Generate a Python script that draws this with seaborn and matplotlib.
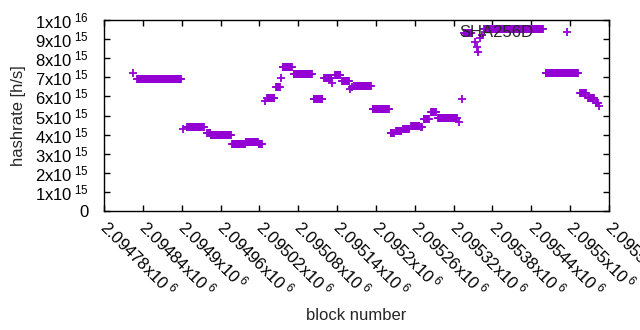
import numpy as np
import pandas as pd
import seaborn as sns
import matplotlib
matplotlib.use("Agg")
import matplotlib.pyplot as plt
from matplotlib.ticker import FuncFormatter

# piecewise constant hashrate (first block, last block, value in 1e15 h/s)
seg_start = [2094825, 2094831, 2094902, 2094908, 2094939, 2094945, 2094978, 2094999,
             2095019, 2095029, 2095032, 2095046, 2095053, 2095056, 2095073, 2095104,
             2095120, 2095132, 2095137, 2095148, 2095160, 2095163, 2095166, 2095195,
             2095223, 2095231, 2095242, 2095254, 2095270, 2095274, 2095285, 2095296,
             2095328, 2095333, 2095336, 2095353, 2095356, 2095358, 2095361, 2095364,
             2095367, 2095462, 2095515, 2095528, 2095540, 2095545]
seg_end = [2094825, 2094899, 2094902, 2094934, 2094944, 2094976, 2094998, 2095018,
           2095024, 2095029, 2095043, 2095052, 2095053, 2095070, 2095101, 2095117,
           2095131, 2095132, 2095145, 2095158, 2095160, 2095163, 2095192, 2095220,
           2095228, 2095239, 2095251, 2095267, 2095271, 2095282, 2095293, 2095325,
           2095328, 2095333, 2095347, 2095353, 2095356, 2095358, 2095361, 2095364,
           2095458, 2095512, 2095524, 2095537, 2095543, 2095545]
seg_rate = [7.21, 6.90, 4.29, 4.38, 4.10, 3.96, 3.50, 3.60,
            3.52, 5.75, 5.92, 6.47, 6.98, 7.52, 7.16, 5.85,
            6.95, 6.69, 7.12, 6.82, 6.37, 6.50, 6.54, 5.32,
            4.10, 4.20, 4.30, 4.45, 4.38, 4.80, 5.18, 4.85,
            4.67, 5.85, 9.30, 8.86, 8.60, 8.34, 9.04, 9.20,
            9.51, 7.21, 6.20, 5.90, 5.64, 5.50]

xticks = [2094780, 2094840, 2094900, 2094960, 2095020, 2095080, 2095140,
          2095200, 2095260, 2095320, 2095380, 2095440, 2095500, 2095560]
yticks = [0, 1e15, 2e15, 3e15, 4e15, 5e15, 6e15, 7e15, 8e15, 9e15, 1e16]

blocks = np.concatenate([np.arange(a, b + 1) for a, b in zip(seg_start, seg_end)])
rates = np.concatenate([np.full(b - a + 1, r * 1e15) for a, b, r in zip(seg_start, seg_end, seg_rate)])
df = pd.DataFrame({"block": blocks, "hashrate": rates})

sns.set_style("ticks")
plt.rcParams["font.family"] = ["Liberation Sans", "DejaVu Sans"]
plt.rcParams["font.size"] = 12

fig = plt.figure(figsize=(6.4, 3.3), dpi=100)
ax = fig.add_axes([104 / 640, 1 - 211 / 330, 505 / 640, 191 / 330])

sns.scatterplot(data=df, x="block", y="hashrate", marker="+", s=26, linewidth=1.3,
                color="#9400d3", ax=ax, label="SHA256D")


def sci(v, pos=None):
    if v == 0:
        return "0"
    e = int(np.floor(np.log10(v) + 1e-9))
    m = v / 10 ** e
    return r"$\mathregular{%gx10^{\;%d}}$" % (round(m, 6), e)


ax.set_xlim(xticks[0], xticks[-1])
ax.set_ylim(0, 1e16)
ax.set_xticks(xticks)
ax.set_yticks(yticks)
ax.xaxis.set_major_formatter(FuncFormatter(sci))
ax.yaxis.set_major_formatter(FuncFormatter(sci))

ax.tick_params(direction="in", length=4, width=1, top=True, right=True, colors="black")
ax.tick_params(axis="y", pad=11)
ax.tick_params(axis="x", pad=9)
plt.setp(ax.get_xticklabels(), rotation=-45, ha="left", va="center", rotation_mode="anchor")
for s in ax.spines.values():
    s.set_linewidth(1)
    s.set_color("black")

ax.set_xlabel("block number")
ax.set_ylabel("hashrate [h/s]")
ax.xaxis.set_label_coords(0.5, -0.545)
ax.xaxis.label.set_va("center")
ax.yaxis.set_label_coords(-0.170, 0.5)
ax.yaxis.label.set_va("center")

ax.legend(loc="center right", bbox_to_anchor=(0.958, 0.937), frameon=False,
          markerfirst=False, handlelength=2.5, handletextpad=0.8, borderpad=0,
          borderaxespad=0, scatterpoints=1, fontsize=12)

fig.savefig("out.png", dpi=100)
